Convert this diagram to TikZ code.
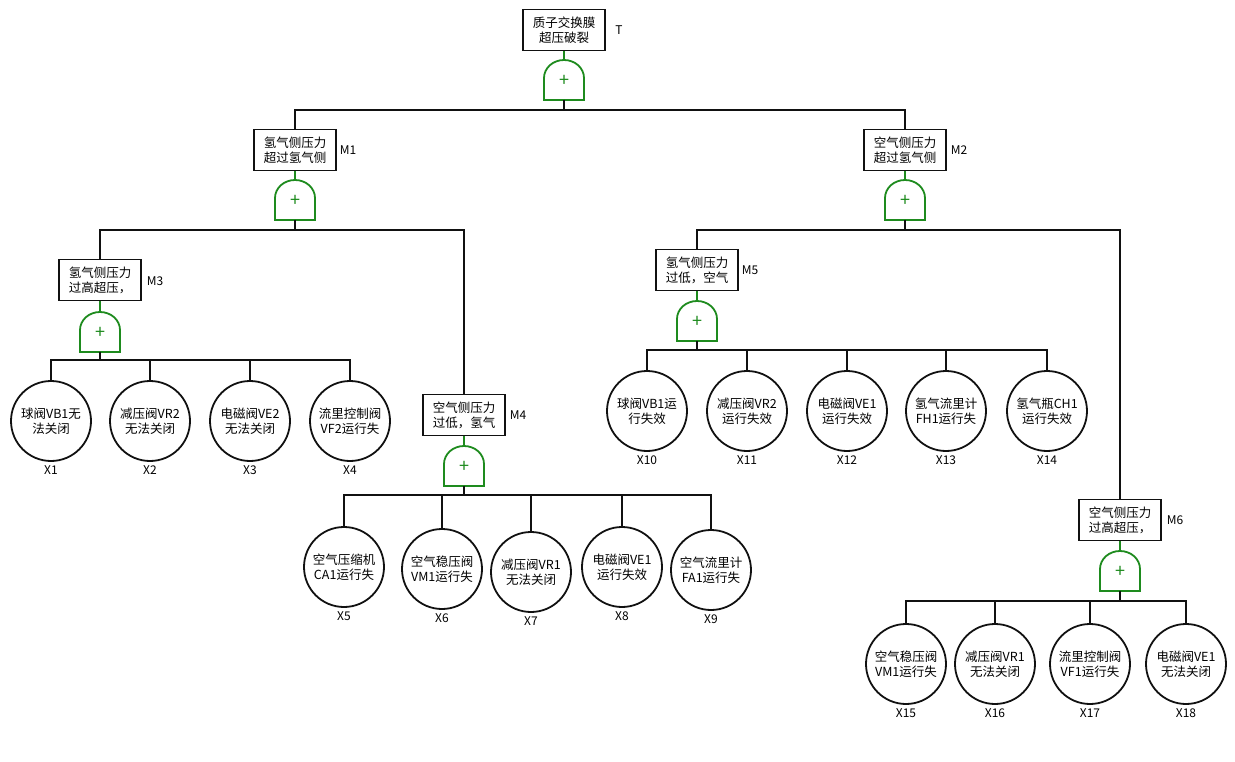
\documentclass[tikz,border=0pt]{standalone}
\usepackage{fontspec}
\setmainfont{Noto Sans CJK SC}
\usepackage{xcolor}
\definecolor{ink}{HTML}{111111}
\definecolor{gategreen}{HTML}{1E8B1E}
\usepackage{tikz}
\usetikzlibrary{positioning}

\tikzset{
  orgate/.pic={
    \draw[gategreen, line width=1.8pt, fill=white] (-20,20) -- (-20,-2)
      .. controls (-20,-12) and (-11,-20) .. (0,-20)
      .. controls (11,-20) and (20,-12) .. (20,-2) -- (20,20) -- cycle;
    \node[text=gategreen, font=\fontsize{18}{18}\selectfont, inner sep=0pt] (-plus) at (0,1) {+};
    \coordinate (-in) at (0,-20);
    \coordinate (-out) at (0,20);
  }
}

\begin{document}
\begin{tikzpicture}[
  x=1pt, y=-1pt,
  font=\fontsize{12.5}{15}\selectfont,
  event/.style={draw=ink, line width=1.8pt, fill=white, align=center,
                inner sep=2pt, minimum width=82pt, minimum height=41pt},
  basic/.style={draw=ink, line width=1.8pt, circle, fill=white, align=center,
                inner sep=0pt, minimum size=80pt},
  tag/.style={font=\fontsize{12}{14}\selectfont, inner sep=1pt},
  link/.style={draw=ink, line width=1.8pt},
  feed/.style={draw=gategreen, line width=1.6pt}
]
  \useasboundingbox (0,0) rectangle (1235,762);

  % top event
  \node[event] (T) at (564,30) {质子交换膜\\超压破裂};
  \node[tag] (tagT) at (619,30) {T};
  \pic (gT) at (564,80) {orgate};

  % intermediate events
  \node[event] (M1) at (295,150) {氢气侧压力\\超过氢气侧};
  \node[tag] (tagM1) at (348,150) {M1};
  \pic (gM1) at (295,200) {orgate};

  \node[event] (M2) at (905,150) {空气侧压力\\超过氢气侧};
  \node[tag] (tagM2) at (959,150) {M2};
  \pic (gM2) at (905,200) {orgate};

  \node[event] (M3) at (100,280) {氢气侧压力\\过高超压，};
  \node[tag] (tagM3) at (155,281) {M3};
  \pic (gM3) at (100,332) {orgate};

  \node[event] (M4) at (464,415) {空气侧压力\\过低，氢气};
  \node[tag] (tagM4) at (518,415) {M4};
  \pic (gM4) at (464,466) {orgate};

  \node[event] (M5) at (697,270) {氢气侧压力\\过低，空气};
  \node[tag] (tagM5) at (750,270) {M5};
  \pic (gM5) at (697,321) {orgate};

  \node[event] (M6) at (1120,520) {空气侧压力\\过高超压，};
  \node[tag] (tagM6) at (1175,520) {M6};
  \pic (gM6) at (1120,571) {orgate};

  % basic events
  \node[basic] (X1) at (51,421) {球阀VB1无\\法关闭};
  \node[basic] (X2) at (150,421) {减压阀VR2\\无法关闭};
  \node[basic] (X3) at (250,421) {电磁阀VE2\\无法关闭};
  \node[basic] (X4) at (350,421) {流里控制阀\\VF2运行失};

  \node[basic] (X5) at (344,567) {空气压缩机\\CA1运行失};
  \node[basic] (X6) at (442,569) {空气稳压阀\\VM1运行失};
  \node[basic] (X7) at (531,572) {减压阀VR1\\无法关闭};
  \node[basic] (X8) at (622,567) {电磁阀VE1\\运行失效};
  \node[basic] (X9) at (711,570) {空气流里计\\FA1运行失};

  \node[basic] (X10) at (647,411) {球阀VB1运\\行失效};
  \node[basic] (X11) at (747,411) {减压阀VR2\\运行失效};
  \node[basic] (X12) at (847,411) {电磁阀VE1\\运行失效};
  \node[basic] (X13) at (946,411) {氢气流里计\\FH1运行失};
  \node[basic] (X14) at (1047,411) {氢气瓶CH1\\运行失效};

  \node[basic] (X15) at (906,664) {空气稳压阀\\VM1运行失};
  \node[basic] (X16) at (995,664) {减压阀VR1\\无法关闭};
  \node[basic] (X17) at (1090,664) {流里控制阀\\VF1运行失};
  \node[basic] (X18) at (1186,664) {电磁阀VE1\\无法关闭};

  \foreach \x in {1,...,18}
    \node[tag, below=3pt of X\x] (tagX\x) {X\x};

  % gate inputs
  \foreach \g in {T,M1,M2,M3,M4,M5,M6}
    \draw[feed] (\g.south) -- (g\g-in);

  % gate outputs
  \draw[link] (gT-out) -- ++(0,10) -| (M1.north);
  \draw[link] (gT-out) -- ++(0,10) -| (M2.north);
  \draw[link] (gM1-out) -- ++(0,10) -| (M3.north);
  \draw[link] (gM1-out) -- ++(0,10) -| (M4.north);
  \draw[link] (gM2-out) -- ++(0,10) -| (M5.north);
  \draw[link] (gM2-out) -- ++(0,10) -| (M6.north);
  \foreach \c in {X1,X2,X3,X4}
    \draw[link] (gM3-out) -- ++(0,8) -| (\c.north);
  \foreach \c in {X5,X6,X7,X8,X9}
    \draw[link] (gM4-out) -- ++(0,9) -| (\c.north);
  \foreach \c in {X10,X11,X12,X13,X14}
    \draw[link] (gM5-out) -- ++(0,9) -| (\c.north);
  \foreach \c in {X15,X16,X17,X18}
    \draw[link] (gM6-out) -- ++(0,10) -| (\c.north);
\end{tikzpicture}
\end{document}
